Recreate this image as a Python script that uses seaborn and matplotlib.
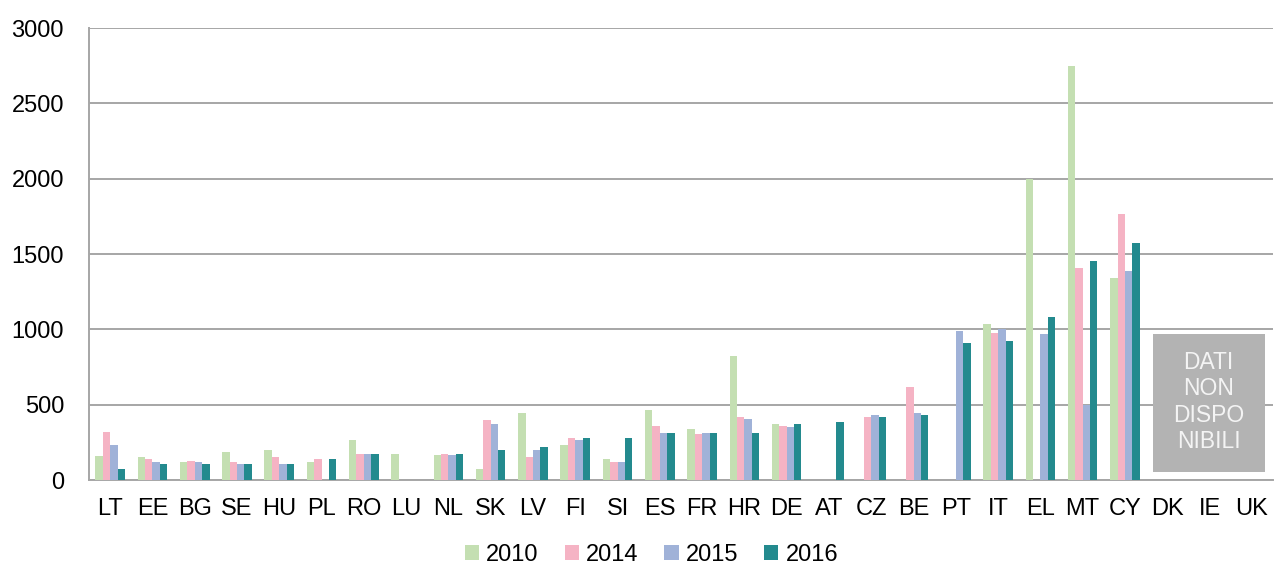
import matplotlib
matplotlib.use("Agg")
import matplotlib.pyplot as plt
import numpy as np
import pandas as pd
import seaborn as sns
from matplotlib.patches import Rectangle, Patch

nan = np.nan

paesi = ["LT", "EE", "BG", "SE", "HU", "PL", "RO", "LU", "NL", "SK", "LV", "FI", "SI",
         "ES", "FR", "HR", "DE", "AT", "CZ", "BE", "PT", "IT", "EL", "MT", "CY",
         "DK", "IE", "UK"]
anni = ["2010", "2014", "2015", "2016"]

v2010 = [161, 153, 117, 188, 199, 117, 268, 175, 164, 73, 443, 232, 139,
         465, 336, 826, 372, nan, nan, nan, nan, 1035, 1995, 2746, 1338,
         nan, nan, nan]
v2014 = [316, 139, 128, 117, 153, 139, 175, nan, 175, 396, 153, 279, 117,
         361, 303, 418, 361, nan, 418, 615, nan, 978, nan, 1407, 1768,
         nan, nan, nan]
v2015 = [232, 117, 117, 106, 106, nan, 175, nan, 164, 374, 199, 268, 117,
         314, 314, 407, 350, nan, 432, 443, 991, 1000, 967, 498, 1385,
         nan, nan, nan]
v2016 = [73, 106, 106, 106, 106, 139, 175, nan, 175, 199, 221, 279, 279,
         314, 314, 314, 372, 385, 418, 429, 907, 920, 1082, 1454, 1571,
         nan, nan, nan]

colori = ["#c4dfb2", "#f5b3c4", "#a0b2d8", "#238a8e"]

# tabella lunga per seaborn
righe = []
for anno, valori in zip(anni, [v2010, v2014, v2015, v2016]):
    for p, v in zip(paesi, valori):
        righe.append({"paese": p, "anno": anno, "valore": v})
df = pd.DataFrame(righe)

sns.set_style("white")
plt.rcParams["font.family"] = ["Liberation Sans", "DejaVu Sans"]
plt.rcParams["text.color"] = "black"
plt.rcParams["xtick.labelcolor"] = "black"
plt.rcParams["ytick.labelcolor"] = "black"

fig = plt.figure(figsize=(12.75, 5.67), dpi=100)
ax = fig.add_axes([0.0698, 0.1534, 0.9286, 0.7972])

sns.barplot(data=df, x="paese", y="valore", hue="anno", order=paesi,
            hue_order=anni, palette=colori, errorbar=None, width=0.7,
            saturation=1, linewidth=0, ax=ax, legend=False, zorder=3)

ax.set_ylim(0, 3000)
ax.set_xlim(-0.5, len(paesi) - 0.5)
ax.set_yticks(range(0, 3001, 500))
ax.yaxis.grid(True, color="#a6a6a6", linewidth=1.4, zorder=0)
ax.set_axisbelow(True)
ax.set_xlabel("")
ax.set_ylabel("")

for s in ["top", "right"]:
    ax.spines[s].set_visible(False)
for s in ["left", "bottom"]:
    ax.spines[s].set_color("#a6a6a6")
    ax.spines[s].set_linewidth(1.4)

# tacche ai bordi delle categorie, etichette al centro
ax.set_xticks(np.arange(-0.5, len(paesi)), minor=True)
ax.tick_params(axis="x", which="minor", length=6, color="#a6a6a6", width=1.4)
ax.tick_params(axis="x", which="major", length=0, pad=13, labelsize=17)
ax.tick_params(axis="y", length=6, color="#a6a6a6", width=1.4, pad=12, labelsize=17)

# riquadro dati non disponibili
ax.add_patch(Rectangle((24.66, 53), 2.65, 916, facecolor="#b3b3b3",
                       edgecolor="none", zorder=4))
ax.text(25.98, 518, "DATI\nNON\nDISPO\nNIBILI", ha="center", va="center",
        color="#f4f4f4", fontsize=16.5, linespacing=1.18, zorder=5)

handles = [Patch(facecolor=c, edgecolor="none") for c in colori]
fig.legend(handles, anni, loc="center", bbox_to_anchor=(0.511, 0.021),
           ncol=4, frameon=False, fontsize=17, handlelength=0.6,
           handleheight=0.6, handletextpad=0.3, columnspacing=1.1)

fig.savefig("out.png", dpi=100)
